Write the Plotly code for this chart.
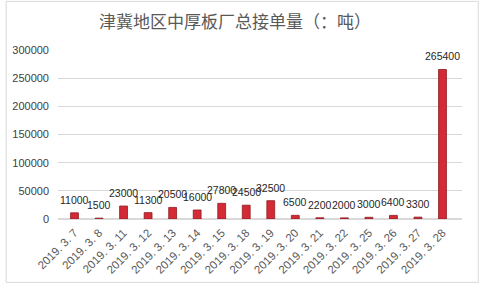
import plotly.graph_objects as go

categories = ["2019. 3. 7", "2019. 3. 8", "2019. 3. 11", "2019. 3. 12", "2019. 3. 13",
              "2019. 3. 14", "2019. 3. 15", "2019. 3. 18", "2019. 3. 19", "2019. 3. 20",
              "2019. 3. 21", "2019. 3. 22", "2019. 3. 25", "2019. 3. 26", "2019. 3. 27",
              "2019. 3. 28"]
values = [11000, 1500, 23000, 11300, 20500, 16000, 27800, 24500, 32500, 6500,
          2200, 2000, 3000, 6400, 3300, 265400]
title = "津冀地区中厚板厂总接单量（：吨）"

L, R, T, B = 53, 18, 50, 66
W = 480 - L - R
H = 288 - T - B

fig = go.Figure(go.Bar(
    x=categories, y=values,
    marker=dict(color="#D42A35", line=dict(color="#8E1A22", width=0.8)),
    width=0.32,
))

for c, v in zip(categories, values):
    fig.add_annotation(x=c, y=v, text=str(v), showarrow=False,
                       yanchor="bottom", yshift=5,
                       font=dict(family="Liberation Sans, Arial", size=10.5, color="#262626"))

fig.update_layout(
    width=480, height=288,
    margin=dict(l=L, r=R, t=T, b=B),
    paper_bgcolor="white", plot_bgcolor="white",
    showlegend=False,
    title=dict(text=title, x=235/480, xanchor="center", y=1 - 22/288, yanchor="middle",
               font=dict(family="Noto Sans CJK SC", size=17, color="#595959")),
    xaxis=dict(tickangle=-45, showgrid=False, showline=False, ticks="",
               ticklabelstandoff=4,
               tickfont=dict(family="Liberation Sans, Arial", size=11.5, color="#595959")),
    yaxis=dict(range=[0, 300000], dtick=50000, showgrid=True, gridcolor="#D9D9D9",
               zeroline=True, zerolinecolor="#D9D9D9", showline=False, ticks="",
               tickformat="d", ticklabelstandoff=8,
               tickfont=dict(family="Liberation Sans, Arial", size=11, color="#404040")),
    shapes=[dict(type="rect", xref="paper", yref="paper", layer="above",
                 x0=(-L + 0.5) / W, x1=(480 - L - 1.5) / W,
                 y0=-(B - 1.5) / H, y1=(H + T - 0.5) / H,
                 line=dict(color="#D9D9D9", width=1))],
)

fig.write_html("out.html")
